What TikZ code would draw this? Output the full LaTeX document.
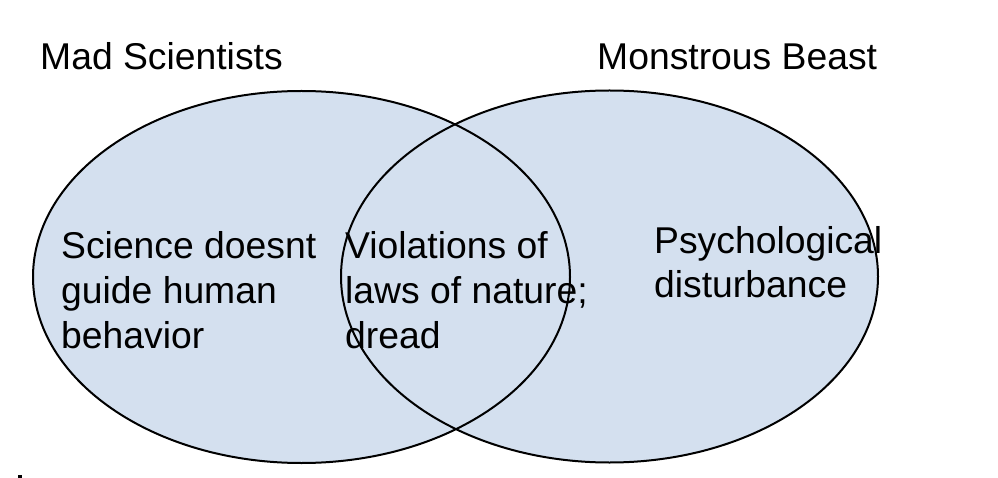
\documentclass[tikz,border=0pt]{standalone}
\usepackage{fontspec}
\setmainfont{Liberation Sans}
\definecolor{setblue}{RGB}{212,224,239}

\tikzset{
  setfill/.style={fill=setblue},
  setline/.style={draw=black,line width=2pt},
  vennlabel/.style={anchor=base west,inner sep=0pt,align=left,
    font=\fontsize{37.3}{44.7}\selectfont}
}

\begin{document}
\begin{tikzpicture}[x=1pt,y=-1pt]
    \useasboundingbox (0,0) rectangle (998,478);
    %% the two sets, filled first so both outlines stay on top
    \fill[setfill] (301.5,277) ellipse [x radius=268.5pt,y radius=186pt];
    \fill[setfill] (609.5,276.5) ellipse [x radius=268.5pt,y radius=186pt];
    \draw[setline] (301.5,277) ellipse [x radius=268.5pt,y radius=186pt];
    \draw[setline] (609.5,276.5) ellipse [x radius=268.5pt,y radius=186pt];

    %% set titles
    \node[vennlabel] (scititle) at (40,70) {Mad Scientists};
    \node[vennlabel] (beasttitle) at (597,70) {Monstrous Beast};

    %% contents (base = baseline of the last line)
    \node[vennlabel] (scionly) at (61,348) {Science doesnt\\guide human\\behavior};
    \node[vennlabel] (both) at (345,348) {Violations of\\laws of nature;\\dread};
    \node[vennlabel] (beastonly) at (654,298) {Psychological\\disturbance};

    \fill (18,475) rectangle (22,478);
\end{tikzpicture}
\end{document}
